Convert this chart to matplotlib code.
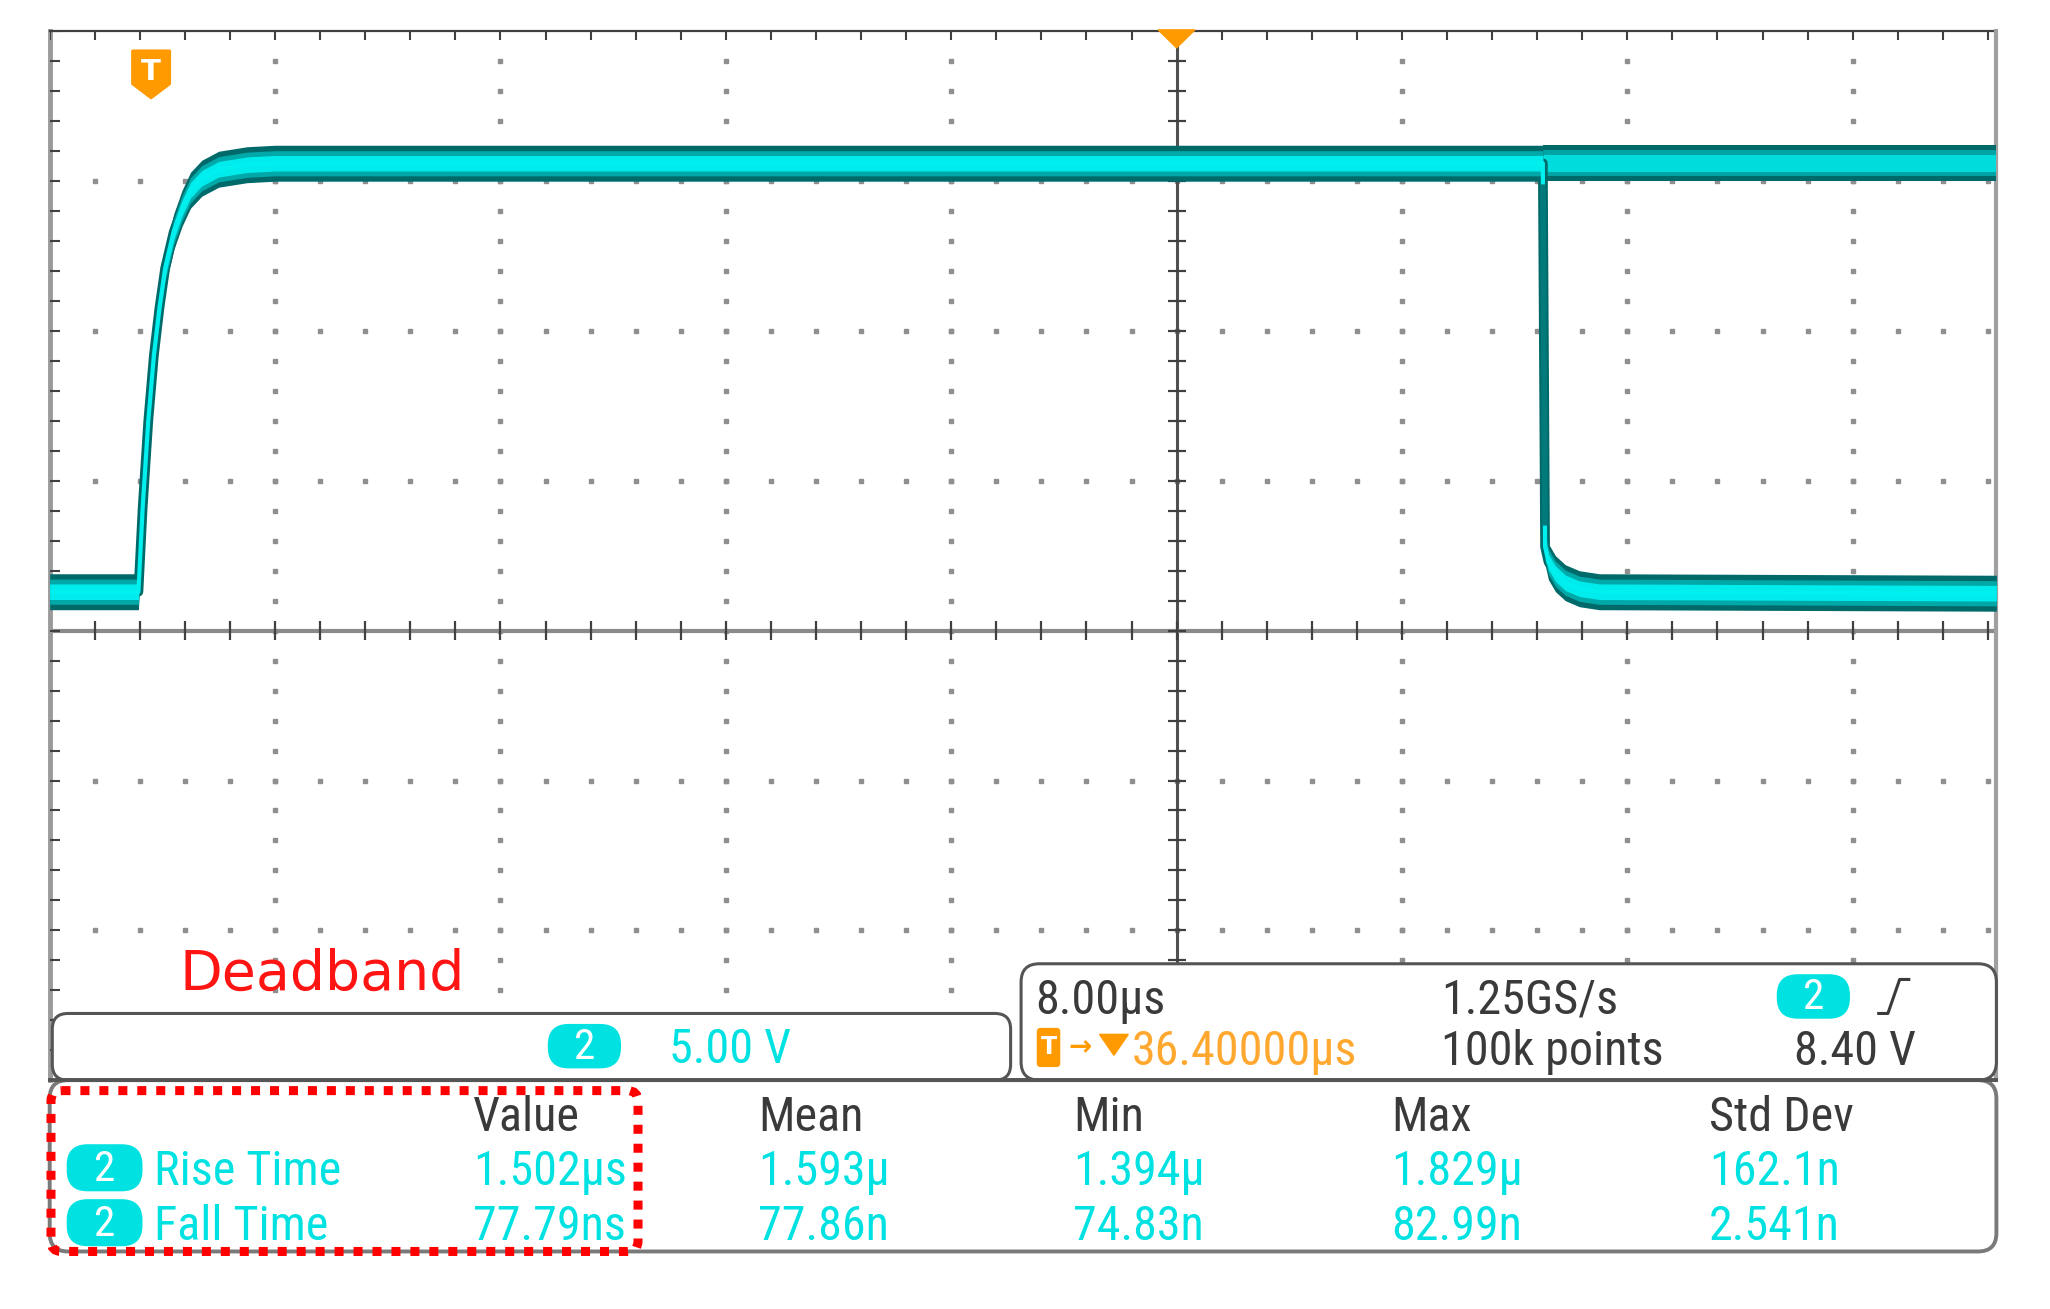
import numpy as np
import matplotlib
matplotlib.use("Agg")
import matplotlib.pyplot as plt
from matplotlib.patches import FancyBboxPatch, Polygon
from matplotlib import font_manager as fm
from matplotlib.textpath import TextPath

# ---------------- data ----------------
# Channel 2 waveform: time in µs relative to screen centre, level in volts
trace_t = [-40.0, -36.85, -36.7, -36.5, -36.3, -36.1, -35.9, -35.6, -35.3, -35.0, -34.6, -34.0, -33.0, -32.0,
           13.0, 13.08, 13.2, 13.45, 13.8, 14.3, 15.0, 29.1]
trace_v = [1.3, 1.3, 4.1, 7.0, 9.2, 10.8, 12.1, 13.3, 14.1, 14.7, 15.1, 15.4, 15.55, 15.6,
           15.6, 2.8, 2.3, 1.9, 1.6, 1.4, 1.3, 1.25]
# persistence: acquisitions still high after the falling edge
hold_t = [13.0, 29.1]
hold_v = [15.6, 15.6]

volts_per_div = 5.0
us_per_div = 8.0
trigger_pos_us = -36.4

channel_label = "2"
ch_scale_label = "5.00 V"
timebase_label = "8.00µs"
sample_rate_label = "1.25GS/s"
record_label = "100k points"
trigger_level_label = "8.40 V"
trigger_delay_label = "36.40000µs"

meas_header = ["Value", "Mean", "Min", "Max", "Std Dev"]
meas_names = ["Rise Time", "Fall Time"]
rise_stats = ["1.502µs", "1.593µ", "1.394µ", "1.829µ", "162.1n"]
fall_stats = ["77.79ns", "77.86n", "74.83n", "82.99n", "2.541n"]
annotation = "Deadband"

# ---------------- font: pick a narrow sans if one is installed ----------------


def _is_regular(f):
    return f.style == 'normal' and str(f.weight) in ('400', 'normal', 'regular', 'book')


def pick_narrow():
    entries = fm.fontManager.ttflist
    for name in ['Liberation Sans Narrow', 'Roboto Condensed', 'Open Sans Condensed',
                 'Noto Sans Condensed', 'DejaVu Sans Condensed']:
        for f in entries:
            if f.name == name and _is_regular(f):
                return fm.FontProperties(fname=f.fname)
    for f in entries:
        if f.stretch in ('condensed', 'semi-condensed', 'extra-condensed') and _is_regular(f) \
                and f.name in ('DejaVu Sans', 'Noto Sans', 'Open Sans', 'Roboto', 'Liberation Sans'):
            return fm.FontProperties(fname=f.fname)
    for f in entries:
        base = f.fname.split('/')[-1]
        if ('Condensed' in base or 'Narrow' in base) and 'Bold' not in base and 'Oblique' not in base \
                and 'Italic' not in base and 'Mono' not in base and 'Serif' not in base:
            return fm.FontProperties(fname=f.fname)
    return fm.FontProperties(family='Roboto')


NARROW = pick_narrow()

# calibrate size so label widths match the screen (target widths in output pixels)
_targets = {"Std Dev": 142.5, "1.502µs": 149.0, "Rise Time": 177.0, "100k points": 217.0}
_ratios = []
for s, px in _targets.items():
    w = TextPath((0, 0), s, size=100, prop=NARROW).get_extents().width  # points at size 100
    _ratios.append(100 * px / (w * 100 / 72))
TXT = float(min(40.0, np.mean(_ratios)))

CYAN = '#00E2E2'
ORANGE = '#FF9A00'
DARK = '#3a3a3a'

fig = plt.figure(figsize=(20.5, 13.09), dpi=100)
W, H = 1568.0, 1001.0


def fx(x):
    return x / W


def fy(y):
    return 1 - y / H


# ---------------- graticule / waveform axes ----------------
x_left, x_right = -5 * us_per_div, 29.1
y_bot, y_top = -3 * volts_per_div, 4 * volts_per_div
ax = fig.add_axes([fx(38), fy(826), fx(1527) - fx(38), fy(24) - fy(826)])
ax.set_xlim(x_left, x_right)
ax.set_ylim(y_bot, y_top)
ax.axis('off')

xminor = np.arange(x_left, x_right, us_per_div / 5)
yminor = np.arange(y_bot, y_top + 0.01, volts_per_div / 5)
xmajor = [x for x in np.arange(x_left + us_per_div, x_right, us_per_div) if abs(x) > 1e-6]
ymajor = [y for y in np.arange(y_bot + volts_per_div, y_top, volts_per_div) if abs(y) > 1e-6]

dot = dict(ls='none', marker='s', ms=2.2, color='#8f8f8f', zorder=1)
for xm in xmajor:
    ax.plot(np.full(len(yminor) - 2, xm), yminor[1:-1], **dot)
for ym in ymajor:
    ax.plot(xminor[1:], np.full(len(xminor) - 1, ym), **dot)

# centre axes
ax.plot([0, 0], [y_bot, y_top], color='#505050', lw=2.2, zorder=2)
ax.plot([x_left, x_right], [0, 0], color='#8a8a8a', lw=3.0, zorder=2)
ax.hlines(yminor, -0.32, 0.32, color='#404040', lw=1.6, zorder=2)
ax.vlines(xminor, -0.32, 0.32, color='#404040', lw=1.6, zorder=2)

# borders with ticks
ax.plot([x_left, x_left], [y_bot, y_top], color='#9a9a9a', lw=3.5, clip_on=False, zorder=2)
ax.plot([x_left, x_right], [y_top, y_top], color='#404040', lw=1.6, clip_on=False, zorder=2)
ax.plot([x_right, x_right], [y_bot, y_top], color='#a0a0a0', lw=3.0, clip_on=False, zorder=2)
ax.vlines(xminor, y_top - 0.3, y_top, color='#404040', lw=1.5, zorder=2)
ax.hlines(yminor, x_left, x_left + 0.35, color='#404040', lw=1.5, zorder=2)

# waveform (persistence band)
t = np.array(trace_t)
v = np.array(trace_v)
ht = np.array(hold_t)
hv = np.array(hold_v)
ax.fill_between(ht, hv - 0.6, hv + 0.6, color='#006a6a', lw=0, zorder=3)
ax.fill_between(ht, hv - 0.44, hv + 0.44, color='#00a4a4', lw=0, zorder=3)
ax.fill_between(ht, hv - 0.28, hv + 0.28, color='#00dcdc', lw=0, zorder=3)
ax.fill_between(t, v - 0.6, v + 0.6, color='#006a6a', lw=0, zorder=4)
ax.plot(t, v, color='#006a6a', lw=7, solid_joinstyle='round', zorder=4)
ax.fill_between(t, v - 0.42, v + 0.42, color='#00a8a8', lw=0, zorder=4)
ax.fill_between(t, v - 0.26, v + 0.26, color='#00ecec', lw=0, zorder=4)
ax.plot(t, v, color='#00f0f0', lw=3, zorder=5)
ax.plot(t[14:16], v[14:16] + np.array([-0.8, 0.8]), color='#007a7a', lw=4, zorder=5)

# trigger markers
ax.add_patch(Polygon([(-0.65, y_top + 0.05), (0.65, y_top + 0.05), (0, y_top - 0.55)],
                     closed=True, color=ORANGE, clip_on=False, zorder=6))
tp = trigger_pos_us
ax.add_patch(Polygon([(tp - 0.66, 19.35), (tp + 0.66, 19.35), (tp + 0.66, 18.25), (tp, 17.78),
                      (tp - 0.66, 18.25)], closed=True, color=ORANGE, zorder=6, joinstyle='round', lw=2))
ax.text(tp, 18.64, "T", color='white', fontsize=21, fontweight='bold', ha='center', va='center',
        family='DejaVu Sans', zorder=7)

# ---------------- overlay (panels and readouts) ----------------
ov = fig.add_axes([0, 0, 1, 1], zorder=3)
ov.set_xlim(0, W)
ov.set_ylim(H, 0)
ov.axis('off')
ov.patch.set_alpha(0)


def txt(x, yc, s, color, size=None, ha='left', **kw):
    size = TXT if size is None else size
    # baseline so that cap height is centred on yc (layout units: 1 unit = 1.3074 px)
    cap = 0.72 * size * (100 / 72) / 1.3074
    ov.text(x, yc + cap / 2, s, color=color, fontsize=size, ha=ha, va='baseline',
            fontproperties=NARROW, **kw)


def badge(xc, yc, w=56, h=34):
    ov.add_patch(FancyBboxPatch((xc - w / 2, yc - h / 2), w, h,
                                boxstyle="round,pad=0,rounding_size=16", fc=CYAN, ec='none', zorder=4))
    ov.text(xc, yc + 1, channel_label, color='white', fontsize=TXT * 0.9, ha='center', va='center',
            fontproperties=NARROW, zorder=5)


ov.text(137, 757, annotation, color='#FF1414', fontsize=40, family='DejaVu Sans', va='baseline')

# vertical scale box
ov.add_patch(FancyBboxPatch((40, 775), 733, 51, boxstyle="round,pad=0,rounding_size=12",
                            fc='white', ec='#555555', lw=2.2, zorder=2))
badge(447, 800)
txt(512, 800, ch_scale_label, CYAN)

# horizontal / trigger box
ov.add_patch(FancyBboxPatch((781, 737), 746, 89, boxstyle="round,pad=0,rounding_size=14",
                            fc='white', ec='#555555', lw=2.2, zorder=2))
txt(792, 762, timebase_label, DARK)
txt(1102, 762, sample_rate_label, DARK)
badge(1387, 762)
ov.plot([1437, 1444, 1453, 1460], [775, 775, 749, 749], color=DARK, lw=2.2, zorder=4)
ov.add_patch(FancyBboxPatch((793, 786), 18, 30, boxstyle="round,pad=0,rounding_size=3",
                            fc=ORANGE, ec='none', zorder=4))
ov.text(802, 801, "T", color='white', fontsize=17, fontweight='bold', ha='center', va='center',
        family='DejaVu Sans', zorder=5)
ov.text(826, 801, "→", color=ORANGE, fontsize=20, ha='center', va='center', family='DejaVu Sans',
        fontweight='bold')
ov.add_patch(Polygon([(841, 791), (863, 791), (852, 807)], closed=True, color=ORANGE, zorder=4))
txt(866, 801, trigger_delay_label, '#FFA830')
txt(1102, 801, record_label, DARK)
txt(1372, 801, trigger_level_label, DARK)

# measurement table
ov.add_patch(FancyBboxPatch((38, 826), 1489, 131, boxstyle="round,pad=0,rounding_size=14",
                            fc='white', ec='#7a7a7a', lw=2.8, zorder=1))
ov.plot([38, 1527], [826, 826], color='#555555', lw=2.8, zorder=2)
col_x = [362, 580, 821, 1064, 1307]
for x, s in zip(col_x, meas_header):
    txt(x, 852, s, DARK)
for yc, name, stats in zip([893, 935], meas_names, [rise_stats, fall_stats]):
    badge(80, yc, w=58, h=36)
    txt(118, yc, name, CYAN)
    for x, s in zip(col_x, stats):
        txt(x, yc, s, CYAN)

# highlight box
ov.add_patch(FancyBboxPatch((39, 834), 449, 123, boxstyle="round,pad=0,rounding_size=8",
                            fill=False, ec='#FF0000', lw=6.5, ls=(0, (1.0, 1.1)), zorder=6))

fig.savefig("out.png", dpi=100)
